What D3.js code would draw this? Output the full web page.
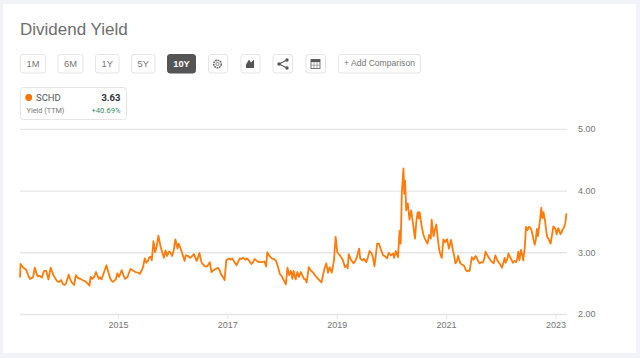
<!DOCTYPE html>
<html>
<head>
<meta charset="utf-8">
<script src="https://cdn.jsdelivr.net/npm/d3@7"></script>
<style>
html, body { margin: 0; padding: 0; background: #f1f3f8; }
svg { display: block; font-family: Roboto, Arial, sans-serif; }
</style>
</head>
<body>
<svg width="640" height="358"></svg>
<script>
const years = [
	2013.21,2013.22,2013.27,2013.32,2013.39,2013.45,2013.48,2013.53,2013.61,2013.65,2013.69,2013.73,2013.77,2013.82,2013.89,2013.96,2014.00,2014.05,2014.10,2014.15,2014.20,2014.23,2014.26,2014.31,2014.40,2014.48,2014.50,2014.56,2014.60,2014.65,2014.70,2014.74,2014.79,2014.85,2014.91,2014.96,2014.99,2015.02,2015.07,2015.13,2015.17,2015.23,2015.28,2015.37,2015.43,2015.49,2015.52,2015.57,2015.62,2015.65,2015.68,2015.74,2015.80,2015.84,2015.87,2015.90,2015.96,2015.99,2016.05,2016.09,2016.11,2016.18,2016.22,2016.24,2016.32,2016.39,2016.44,2016.49,2016.53,2016.59,2016.68,2016.71,2016.83,2016.88,2016.95,2016.98,
	2017.09,2017.17,2017.23,2017.29,2017.36,2017.44,2017.50,2017.58,2017.68,2017.71,2017.73,2017.81,2017.89,2017.96,2018.02,2018.07,2018.10,2018.13,2018.16,2018.19,2018.21,2018.25,2018.28,2018.31,2018.34,2018.40,2018.45,2018.49,2018.57,2018.66,2018.72,2018.78,2018.81,2018.84,2018.87,2018.91,2018.95,2018.98,2019.01,2019.08,2019.15,2019.20,2019.22,2019.31,2019.41,2019.43,2019.54,2019.60,2019.64,2019.69,2019.74,2019.77,2019.85,2019.92,2019.95,
	2020.03,2020.05,2020.08,2020.12,2020.15,2020.17,2020.19,2020.22,2020.235,2020.25,2020.27,2020.30,2020.33,2020.36,2020.39,2020.43,2020.455,2020.48,2020.50,2020.515,2020.55,2020.61,2020.66,2020.69,2020.72,2020.735,2020.77,2020.82,2020.87,2020.92,2020.95,2021.02,2021.05,2021.09,2021.125,2021.17,2021.22,2021.26,2021.32,2021.36,2021.42,
	2021.43,2021.47,2021.52,2021.54,2021.61,2021.67,2021.72,2021.79,2021.87,2021.90,2021.96,2022.02,2022.07,2022.09,2022.14,2022.17,2022.22,2022.28,2022.32,2022.34,2022.37,2022.41,2022.46,2022.51,2022.56,2022.62,2022.66,2022.68,2022.70,2022.74,2022.76,2022.78,2022.83,2022.87,2022.91,2022.96,2023.00,2023.02,2023.05,2023.09,2023.13,2023.16,2023.20
];
const yields = [
	2.59,2.81,2.75,2.72,2.57,2.60,2.75,2.61,2.59,2.70,2.70,2.56,2.75,2.63,2.53,2.55,2.48,2.49,2.64,2.52,2.47,2.63,2.59,2.57,2.53,2.46,2.60,2.59,2.68,2.57,2.56,2.66,2.79,2.60,2.52,2.56,2.66,2.60,2.71,2.57,2.59,2.73,2.70,2.67,2.70,2.90,2.83,2.91,2.87,3.18,3.00,3.27,3.03,2.91,3.03,2.94,3.00,2.94,3.21,3.06,3.14,2.97,2.86,2.95,2.91,2.97,2.86,2.99,2.83,2.77,2.84,2.68,2.75,2.65,2.55,2.87,
	2.90,2.79,2.90,2.91,2.90,2.81,2.89,2.84,2.85,2.77,3.00,2.90,2.86,2.65,2.57,2.48,2.75,2.63,2.70,2.57,2.70,2.56,2.68,2.60,2.68,2.57,2.51,2.76,2.67,2.57,2.51,2.75,2.82,2.67,2.76,2.67,2.87,3.25,3.00,2.92,2.76,2.74,2.97,2.82,3.06,2.90,2.84,3.02,2.98,2.77,3.14,3.14,2.95,2.90,2.99,
	2.98,2.91,3.02,2.92,3.35,3.14,3.95,4.36,3.95,4.16,3.68,3.79,3.53,3.68,3.50,3.22,3.49,3.65,3.55,3.65,3.44,3.22,3.14,3.28,3.22,3.53,3.26,3.45,3.06,2.91,3.21,3.21,3.06,3.20,3.03,2.82,2.94,2.82,2.79,2.71,2.71,
	2.70,2.92,2.91,2.94,2.82,2.83,3.01,2.90,2.82,2.95,2.84,2.75,2.91,2.83,2.98,2.92,2.83,2.84,3.01,2.87,3.04,2.87,3.41,3.41,3.36,3.12,3.38,3.26,3.41,3.72,3.55,3.65,3.35,3.22,3.14,3.42,3.38,3.29,3.39,3.29,3.37,3.41,3.63
];
// second pass over the picture, in between the first readings
const extraYears = [
	2013.36,2013.42,2013.57,2013.86,2013.93,2014.03,2014.13,2014.35,2014.44,2014.53,2014.68,2014.88,2015.10,2015.20,2015.32,2015.40,2015.46,2015.55,2015.60,2015.71,2015.78,2015.93,2016.02,2016.15,2016.28,2016.36,2016.47,2016.56,2016.63,2016.77,2016.86,2016.92,
	2017.03,2017.06,2017.13,2017.20,2017.26,2017.33,2017.40,2017.47,2017.54,2017.63,2017.77,2017.85,2017.92,2017.99,2018.37,2018.43,2018.53,2018.61,2018.69,2019.05,2019.11,2019.18,2019.26,2019.35,2019.38,2019.47,2019.50,2019.57,2019.67,2019.81,2019.89,2019.99,
	2020.58,2020.79,2020.84,2020.89,2020.98,2021.00,2021.07,2021.15,2021.20,2021.24,2021.29,2021.34,2021.39,
	2021.50,2021.58,2021.64,2021.70,2021.75,2021.83,2021.93,2021.99,2022.05,2022.12,2022.20,2022.25,2022.30,2022.44,2022.49,2022.54,2022.59,2022.64,2022.72,2022.81,2022.85,2022.89,2022.94,2022.98,2023.07,2023.11,2023.18
];
const extraYields = [
	2.63,2.58,2.62,2.57,2.52,2.47,2.56,2.55,2.50,2.57,2.59,2.54,2.63,2.66,2.68,2.65,2.76,2.86,2.93,3.10,3.09,3.01,3.03,3.05,2.94,2.94,2.93,2.80,2.77,2.72,2.71,2.60,
	2.90,2.88,2.84,2.85,2.89,2.88,2.86,2.84,2.86,2.84,2.94,2.89,2.78,2.62,2.63,2.56,2.70,2.62,2.54,2.96,2.88,2.79,2.88,2.88,2.96,2.87,2.89,2.92,2.88,3.04,2.93,2.95,
	3.30,3.34,3.28,2.98,3.16,3.20,3.12,2.93,2.86,2.88,2.80,2.76,2.69,
	2.88,2.87,2.84,2.90,2.96,2.85,2.88,2.80,2.84,2.90,2.87,2.86,2.90,3.10,3.36,3.40,3.24,3.20,3.55,3.50,3.24,3.18,3.30,3.40,3.35,3.32,3.48
];
const yTicks = [2, 3, 4, 5];
const xTicks = [2015, 2017, 2019, 2021, 2023];
const ranges = ['1M', '6M', '1Y', '5Y', '10Y'];
const rangeLefts = [20, 57.5, 95, 131, 167];
const rangeWidths = [25, 25, 23.5, 23.5, 28];

const svg = d3.select('svg');

const textColor = '#757575';
const btnBorder = '#e4e4e4';

// white card
svg.append('rect').attr('x', 3).attr('y', 4).attr('width', 633).attr('height', 349).attr('fill', '#fff');

svg.append('text').attr('x', 20).attr('y', 34.5)
	.attr('font-family', '"Liberation Sans", Arial, sans-serif')
	.attr('font-size', 17).attr('fill', '#6e6e6e').text('Dividend Yield');

const button = (x, w, active) => svg.append('rect')
	.attr('x', x + .5).attr('y', 54.5).attr('width', w).attr('height', 18.5).attr('rx', 2.5)
	.attr('fill', active ? '#555' : '#fff')
	.attr('stroke', active ? '#555' : btnBorder);

ranges.forEach((r, i) => {
	const active = r === '10Y';
	button(rangeLefts[i], rangeWidths[i], active);
	svg.append('text')
		.attr('x', rangeLefts[i] + rangeWidths[i] / 2 + .5).attr('y', 66.5)
		.attr('text-anchor', 'middle').attr('font-size', 9.3)
		.attr('font-family', '"Liberation Sans", Arial, sans-serif')
		.attr('font-weight', active ? 700 : 400)
		.attr('fill', active ? '#fff' : textColor).text(r);
});

// icon buttons
button(208, 19, false);
button(240.5, 19, false);
button(272.5, 19.5, false);
button(305.5, 19.5, false);

svg.append('circle').attr('cx', 217.5).attr('cy', 64).attr('r', 3.8)
	.attr('fill', 'none').attr('stroke', '#666').attr('stroke-width', 1.5).attr('stroke-dasharray', '1.8 .7');
svg.append('circle').attr('cx', 217.5).attr('cy', 64).attr('r', 1.6)
	.attr('fill', 'none').attr('stroke', '#666').attr('stroke-width', .8);

svg.append('path').attr('d', 'M246 68V64.5L249 59.5L251 62.5L254 59.5V68Z').attr('fill', '#555');

svg.append('path').attr('d', 'M287 60L279 64L287 68').attr('fill', 'none').attr('stroke', '#555').attr('stroke-width', 1.1);
[[287, 60], [279, 64], [287, 68]].forEach(p => svg.append('circle')
	.attr('cx', p[0]).attr('cy', p[1]).attr('r', 1.7).attr('fill', '#555'));

svg.append('rect').attr('x', 311).attr('y', 59.5).attr('width', 9).attr('height', 9)
	.attr('fill', '#fff').attr('stroke', '#666').attr('stroke-width', .9);
svg.append('rect').attr('x', 311).attr('y', 59.5).attr('width', 9).attr('height', 2.6).attr('fill', '#555');
svg.append('path').attr('d', 'M314 62V68.5M317 62V68.5M311 65.2H320').attr('stroke', '#888').attr('stroke-width', .7);

svg.append('rect').attr('x', 338.5).attr('y', 54.5).attr('width', 82).attr('height', 18.5).attr('rx', 2.5)
	.attr('fill', '#fff').attr('stroke', btnBorder);
svg.append('text').attr('x', 379.5).attr('y', 66.2).attr('text-anchor', 'middle')
	.attr('font-family', '"Liberation Sans", Arial, sans-serif')
	.attr('font-size', 8.6).attr('fill', textColor).text('+ Add Comparison');

// legend box
svg.append('rect').attr('x', 20.5).attr('y', 87.5).attr('width', 106).attr('height', 32).attr('rx', 3)
	.attr('fill', '#fff').attr('stroke', btnBorder);
svg.append('circle').attr('cx', 28.7).attr('cy', 97.5).attr('r', 3.4).attr('fill', '#ff7300');
svg.append('text').attr('x', 36).attr('y', 101).attr('font-size', 9.5).attr('fill', '#555').text('SCHD');
svg.append('text').attr('x', 120.5).attr('y', 101).attr('text-anchor', 'end')
	.attr('font-size', 9.5).attr('font-weight', 700).attr('fill', '#333').text('3.63');
svg.append('text').attr('x', 26.5).attr('y', 113).attr('font-size', 7.3).attr('fill', '#777').text('Yield (TTM)');
svg.append('text').attr('x', 120.5).attr('y', 113).attr('text-anchor', 'end')
	.attr('font-size', 7.6).attr('fill', '#3c8a68').text('+40.69%');

// chart
const xScale = d3.scaleLinear().domain([2013.21, 2023.21]).range([20, 567]);
const yScale = d3.scaleLinear().domain([2, 5]).range([314, 128.8]);

const yAxis = d3.axisRight(yScale)
	.tickValues(yTicks)
	.tickSize(547)
	.tickPadding(11)
	.tickFormat(d3.format('.2f'));

const xAxis = d3.axisBottom(xScale)
	.tickValues(xTicks)
	.tickSize(5)
	.tickPadding(3)
	.tickFormat(d3.format('d'));

const yG = svg.append('g').attr('transform', 'translate(20, 0)').call(yAxis);
yG.select('.domain').remove();
yG.selectAll('line').attr('stroke', '#e6e6e6').attr('stroke-width', 1.3);
yG.selectAll('text').attr('font-size', 9).attr('font-family', '"Liberation Sans", Arial, sans-serif').attr('fill', textColor);

const xG = svg.append('g').attr('transform', 'translate(0, 314)').call(xAxis);
xG.select('.domain').remove();
xG.selectAll('line').attr('stroke', '#e6e6e6').attr('stroke-width', 1);
xG.selectAll('text').attr('font-size', 9).attr('font-family', '"Liberation Sans", Arial, sans-serif').attr('fill', textColor);

const line = d3.line()
	.x(d => xScale(d[0]))
	.y(d => yScale(d[1]));

const points = d3.zip(years, yields).concat(d3.zip(extraYears, extraYields))
	.sort((a, b) => d3.ascending(a[0], b[0]));

svg.append('path')
	.datum(points)
	.attr('d', line)
	.attr('fill', 'none')
	.attr('stroke', '#ff7b0a')
	.attr('stroke-width', 1.8)
	.attr('stroke-linejoin', 'round');
</script>
</body>
</html>
